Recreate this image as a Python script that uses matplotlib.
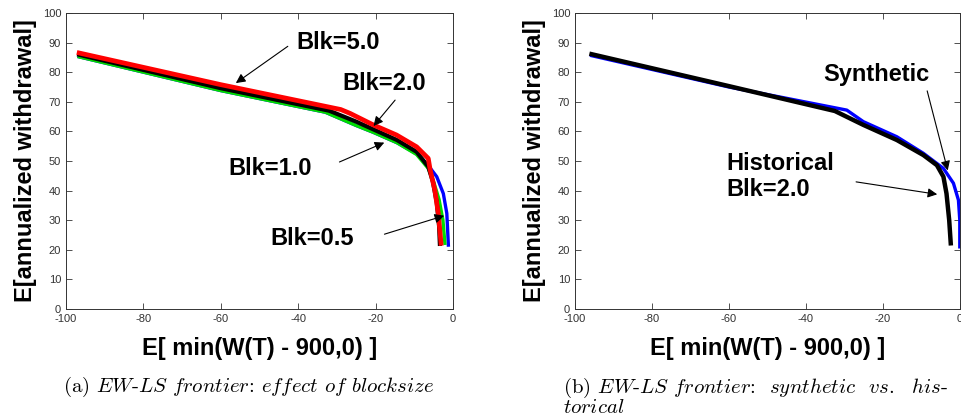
import matplotlib
matplotlib.use('Agg')
import matplotlib.pyplot as plt

plt.rcParams['font.family'] = ['Liberation Sans', 'DejaVu Sans']
plt.rcParams['mathtext.fontset'] = 'cm'
plt.rcParams['axes.unicode_minus'] = False

# (a) effect of blocksize
blk05_x = [-96.6, -60, -33.0, -25.0, -20.6, -14.5, -9.4, -6.4, -4.2, -2.5, -1.6, -1.2]
blk05_y = [85.2, 73.8, 66.5, 62.0, 59.7, 56.2, 52.4, 48.5, 44.7, 39.0, 32.3, 21.6]
blk10_x = [-96.6, -60, -33.0, -25.0, -20.6, -14.5, -9.4, -6.4, -5.0, -3.6, -2.6, -2.1]
blk10_y = [85.2, 73.8, 66.5, 62.0, 59.7, 56.2, 52.2, 47.5, 43.0, 37.0, 30.0, 22.2]
blk20_x = [-96.6, -60, -32.0, -25.0, -20.6, -14.5, -9.4, -6.4, -5.2, -4.2, -3.6, -3.4]
blk20_y = [85.9, 74.6, 67.0, 63.3, 60.7, 57.1, 53.1, 48.1, 43.0, 36.0, 28.0, 22.0]
blk50_x = [-96.6, -60, -29.0, -26.6, -20.6, -14.6, -9.4, -6.4, -5.9, -4.7, -3.8, -3.1]
blk50_y = [86.5, 75.8, 67.4, 66.1, 62.2, 58.8, 54.8, 50.9, 47.0, 40.2, 32.3, 22.2]

# (b) synthetic vs historical
hist_x = [-95.7, -60, -32.5, -25.1, -16.4, -9.5, -6.0, -4.3, -3.5, -2.8, -2.4]
hist_y = [86.1, 75.3, 66.9, 62.2, 57.1, 52.0, 48.6, 44.7, 39.0, 30.0, 22.2]
syn_x = [-95.7, -60, -29.4, -25.1, -16.4, -9.5, -4.3, -1.7, -0.4, -0.05, -0.05]
syn_y = [85.6, 75.0, 67.2, 63.3, 58.2, 52.6, 47.5, 42.5, 36.8, 30.0, 21.0]

xlabel = 'E[ min(W(T) - 900,0) ]'
ylabel = 'E[annualized withdrawal]'

fig = plt.figure(figsize=(9.62, 4.19), dpi=100)
ax1 = fig.add_axes([0.0686, 0.2625, 0.4023, 0.7064])
ax2 = fig.add_axes([0.5977, 0.2625, 0.4002, 0.7064])


def style(ax):
    ax.set_xlim(-100, 0)
    ax.set_ylim(0, 100)
    ax.set_xticks([-100, -80, -60, -40, -20, 0])
    ax.set_yticks(range(0, 101, 10))
    ax.tick_params(direction='in', top=True, right=True, labelsize=8,
                   colors='#333333', length=4, width=0.6)
    for s in ax.spines.values():
        s.set_color('#333333')
        s.set_linewidth(0.7)
    ax.set_xlabel(xlabel, fontsize=17, fontweight='bold')
    ax.set_ylabel(ylabel, fontsize=17, fontweight='bold')
    ax.xaxis.set_label_coords(0.5, -0.095)
    ax.yaxis.set_label_coords(-0.076, 0.5)


ax1.plot(blk05_x, blk05_y, color='#0000ff', lw=2.4)
ax1.plot(blk10_x, blk10_y, color='#00dd00', lw=2.4)
ax1.plot(blk20_x, blk20_y, color='black', lw=3.0)
ax1.plot(blk50_x, blk50_y, color='#ff0000', lw=3.4)
style(ax1)

arrow = dict(arrowstyle='-|>', color='black', lw=0.8, mutation_scale=14)
tkw = dict(fontsize=17, fontweight='bold', ha='center', va='center')
ax1.annotate('', xy=(-56.7, 75.8), xytext=(-42.1, 89.3), arrowprops=arrow)
ax1.text(-29.6, 89.9, 'Blk=5.0', **tkw)
ax1.annotate('', xy=(-21.0, 61.1), xytext=(-14.5, 71.3), arrowprops=arrow)
ax1.text(-17.9, 76.3, 'Blk=2.0', **tkw)
ax1.annotate('', xy=(-17.1, 56.6), xytext=(-30.0, 49.3), arrowprops=arrow)
ax1.text(-47.2, 47.6, 'Blk=1.0', **tkw)
ax1.annotate('', xy=(-1.6, 31.8), xytext=(-18.4, 25.0), arrowprops=arrow)
ax1.text(-36.5, 23.9, 'Blk=0.5', **tkw)

ax2.plot(syn_x, syn_y, color='#0000ff', lw=2.4, clip_on=False)
ax2.plot(hist_x, hist_y, color='black', lw=3.2)
style(ax2)
ax2.annotate('', xy=(-3.0, 45.9), xytext=(-8.7, 74.6), arrowprops=arrow)
ax2.text(-21.6, 79.1, 'Synthetic', **tkw)
ax2.annotate('', xy=(-5.2, 38.6), xytext=(-27.7, 43.1), arrowprops=arrow)
ax2.text(-60.6, 44.8, 'Historical\nBlk=2.0', fontsize=17, fontweight='bold',
         ha='left', va='center', linespacing=1.2)

cap = dict(fontsize=15, ha='left', family='cmr10')
fig.text(63 / 962, 1 - 392 / 419,
         r'(a) $\mathit{EW}$-$\mathit{LS}$ $\mathit{frontier}$: '
         r'$\mathit{effect}$ $\mathit{of}$ $\mathit{blocksize}$',
         va='baseline', **cap)
fig.text(563 / 962, 1 - 376 / 419,
         r'(b) $\mathit{EW}$-$\mathit{LS}$ $\mathit{frontier}$:  '
         r'$\mathit{synthetic}$  $\mathit{vs.}$  $\mathit{his}$-' '\n'
         r'$\mathit{torical}$',
         va='top', linespacing=0.95, **cap)

fig.savefig('out.png', dpi=100)
